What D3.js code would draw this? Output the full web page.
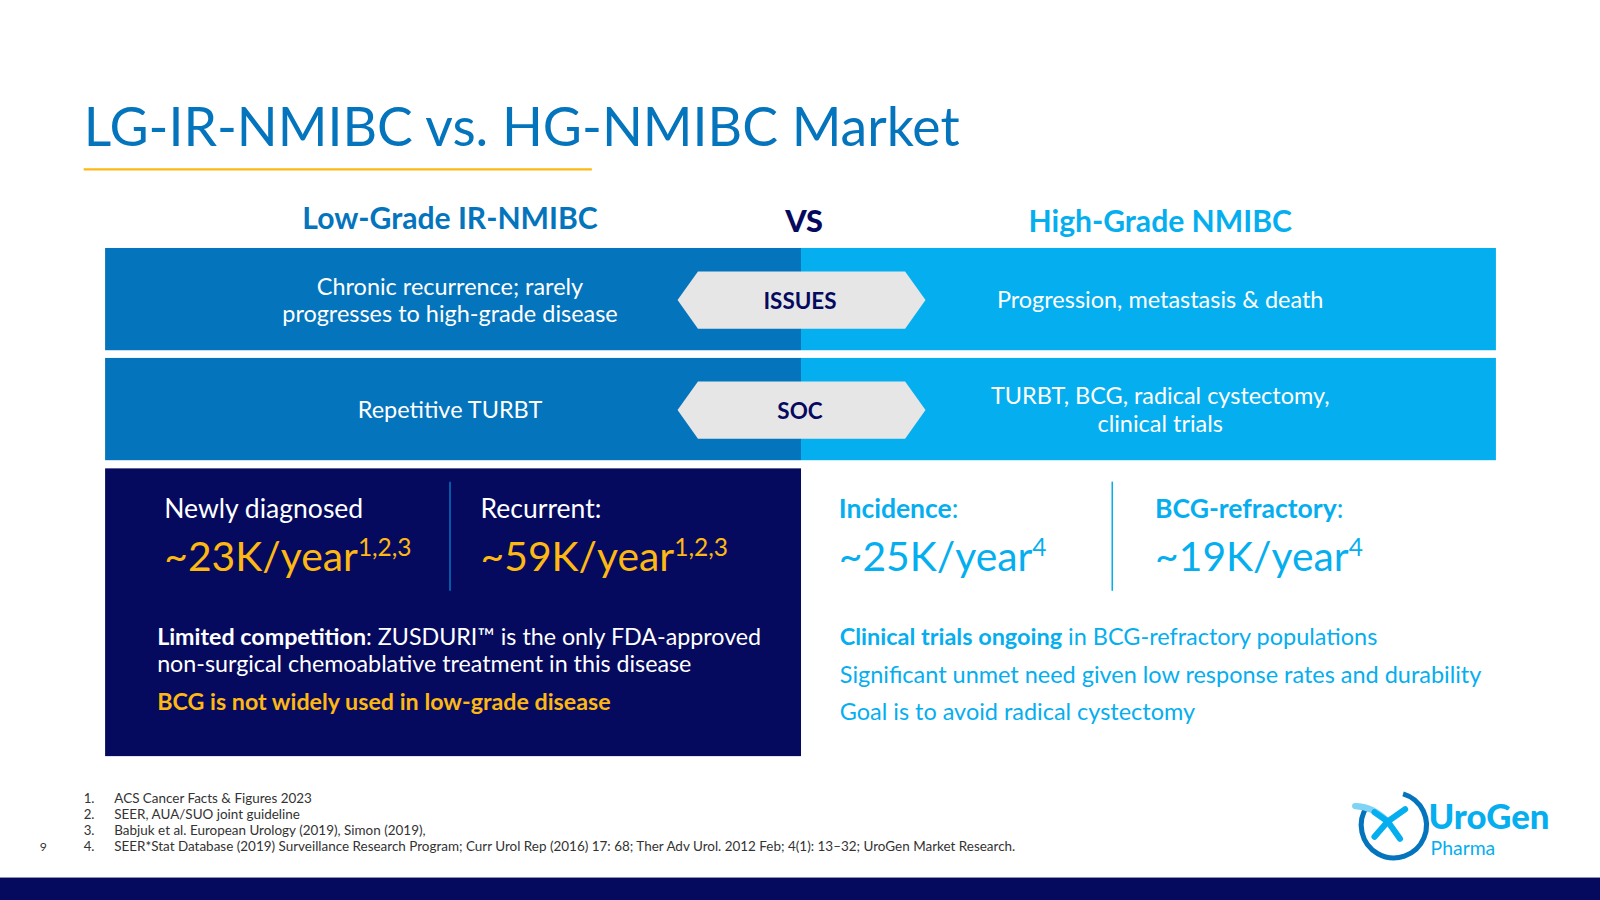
<!DOCTYPE html>
<html><head><meta charset="utf-8">
<script src="https://cdn.jsdelivr.net/npm/d3@7"></script>
<style>body{margin:0;background:#fff}svg{display:block;font-family:Lato,'Open Sans',sans-serif}</style>
</head><body>
<svg id="c" width="1600" height="900" viewBox="0 0 1568 882"></svg>
<script>
const rowLabels = ["ISSUES", "SOC"];
const leftRowText = [["Chronic recurrence; rarely","progresses to high-grade disease"],["Repetitive TURBT"]];
const rightRowText = [["Progression, metastasis & death"],["TURBT, BCG, radical cystectomy,","clinical trials"]];
const leftStatLabels = ["Newly diagnosed", "Recurrent:"];
const leftStatValues = ["~23K/year", "~59K/year"];
const leftStatSup = ["1,2,3", "1,2,3"];
const rightStatLabels = ["Incidence", "BCG-refractory"];
const rightStatValues = ["~25K/year", "~19K/year"];
const rightStatSup = ["4", "4"];
const footnotes = ["ACS Cancer Facts & Figures 2023","SEER, AUA/SUO joint guideline","Babjuk et al. European Urology (2019), Simon (2019),","SEER*Stat Database (2019) Surveillance Research Program; Curr Urol Rep (2016) 17: 68; Ther Adv Urol. 2012 Feb; 4(1): 13–32; UroGen Market Research."];

const svg = d3.select("#c");
const C = {dark:"#0474BC", light:"#05AEEF", navy:"#050A5E", yellow:"#FDB813", title:"#0474BC", grey:"#E6E6E6"};

svg.append("text").attr("x",82).attr("y",143).attr("font-size",52.5).attr("fill",C.title).text("LG-IR-NMIBC vs. HG-NMIBC Market");
svg.append("line").attr("x1",82).attr("x2",580).attr("y1",166).attr("y2",166).attr("stroke","#FDB813").attr("stroke-width",2);

svg.append("text").attr("x",441).attr("y",224).attr("text-anchor","middle").attr("font-size",29.5).attr("font-weight",700).attr("fill",C.dark).text("Low-Grade IR-NMIBC");
svg.append("text").attr("x",788).attr("y",227).attr("text-anchor","middle").attr("font-size",30).attr("font-weight",900).attr("fill",C.navy).text("VS");
svg.append("text").attr("x",1137).attr("y",227).attr("text-anchor","middle").attr("font-size",29.5).attr("font-weight",700).attr("fill",C.light).text("High-Grade NMIBC");

const y = d3.scaleBand().domain(rowLabels).range([243,451]).paddingInner(0.07);
const xl=103, xm=785, xr=1466;
const rows = svg.selectAll("g.row").data(rowLabels).join("g").attr("class","row");
rows.append("rect").attr("x",xl).attr("y",d=>y(d)).attr("width",xm-xl).attr("height",y.bandwidth()).attr("fill",C.dark);
rows.append("rect").attr("x",xm).attr("y",d=>y(d)).attr("width",xr-xm).attr("height",y.bandwidth()).attr("fill",C.light);
rows.append("path").attr("fill",C.grey).attr("d",d=>{const cy=y(d)+y.bandwidth()/2+1, h=28; return `M664,${cy} L684,${cy-h} L887,${cy-h} L907,${cy} L887,${cy+h} L684,${cy+h} Z`;});
rows.append("text").attr("x",784).attr("y",d=>y(d)+y.bandwidth()/2+10).attr("text-anchor","middle").attr("font-size",22).attr("font-weight",700).attr("fill",C.navy).text(d=>d);
function multi(sel, x, lines){
  sel.each(function(d,i){
    const L = lines[i], g=d3.select(this), cy=y(d)+y.bandwidth()/2, lh=27;
    L.forEach((t,k)=>g.append("text").attr("x",x).attr("y",cy+9+(k-(L.length-1)/2)*lh).attr("text-anchor","middle").attr("font-size",23).attr("fill","#fff").text(t));
  });
}
multi(rows, 441, leftRowText);
multi(rows, 1137, rightRowText);

svg.append("rect").attr("x",xl).attr("y",459).attr("width",xm-xl).attr("height",282).attr("fill",C.navy);
svg.append("line").attr("x1",441).attr("x2",441).attr("y1",472).attr("y2",579).attr("stroke",C.dark).attr("stroke-width",1.5);
svg.append("line").attr("x1",1090).attr("x2",1090).attr("y1",472).attr("y2",579).attr("stroke",C.light).attr("stroke-width",1.5);

function stats(xs, labels, vals, sups, lcol, vcol, lbold){
  labels.forEach((l,i)=>{
    const lt=svg.append("text").attr("x",xs[i]).attr("y",508).attr("font-size",26).attr("fill",lcol);
    lt.append("tspan").attr("font-weight",lbold?700:400).text(l);
    if(lbold) lt.append("tspan").text(":");
    const t=svg.append("text").attr("x",xs[i]).attr("y",560).attr("font-size",40).attr("fill",vcol);
    t.append("tspan").text(vals[i]);
    t.append("tspan").attr("font-size",24).attr("dy",-15).text(sups[i]);
  });
}
stats([161,471], leftStatLabels, leftStatValues, leftStatSup, "#fff", C.yellow, false);
stats([822,1132], rightStatLabels, rightStatValues, rightStatSup, C.light, C.light, true);

let t=svg.append("text").attr("x",154).attr("y",632).attr("font-size",22.8).attr("fill","#fff");
t.append("tspan").attr("font-weight",700).text("Limited competition");
t.append("tspan").text(": ZUSDURI™ is the only FDA-approved");
svg.append("text").attr("x",154).attr("y",659).attr("font-size",22.8).attr("fill","#fff").text("non-surgical chemoablative treatment in this disease");
svg.append("text").attr("x",154).attr("y",696).attr("font-size",22.8).attr("font-weight",700).attr("fill",C.yellow).text("BCG is not widely used in low-grade disease");

t=svg.append("text").attr("x",823).attr("y",632).attr("font-size",23).attr("fill",C.light);
t.append("tspan").attr("font-weight",700).text("Clinical trials ongoing");
t.append("tspan").text(" in BCG-refractory populations");
svg.append("text").attr("x",823).attr("y",669).attr("font-size",23).attr("fill",C.light).text("Significant unmet need given low response rates and durability");
svg.append("text").attr("x",823).attr("y",706).attr("font-size",23).attr("fill",C.light).text("Goal is to avoid radical cystectomy");

footnotes.forEach((f,i)=>{
  svg.append("text").attr("x",82).attr("y",787+i*15.7).attr("font-size",13).attr("fill","#333").text((i+1)+".");
  svg.append("text").attr("x",112).attr("y",787+i*15.7).attr("font-size",13.2).attr("fill","#333").text(f);
});
svg.append("text").attr("x",39).attr("y",834).attr("font-size",12).attr("fill","#333").text("9");

// logo
const lg=svg.append("g");
lg.append("path").attr("d","M1340,790 A32,32 0 1 0 1375,778").attr("fill","none").attr("stroke","#0474BC").attr("stroke-width",5);
lg.append("path").attr("d","M1328,790 Q1345,790 1360,805").attr("fill","none").attr("stroke","#7FD3F5").attr("stroke-width",6).attr("stroke-linecap","round");
[[1360,805,1377,793],[1360,805,1347,820],[1360,805,1372,822],[1360,805,1347,796]].forEach(a=>lg.append("line").attr("x1",a[0]).attr("y1",a[1]).attr("x2",a[2]).attr("y2",a[3]).attr("stroke","#05AEEF").attr("stroke-width",6).attr("stroke-linecap","round"));
lg.append("text").attr("x",1400).attr("y",812).attr("font-size",34).attr("font-weight",900).attr("fill","#05AEEF").text("UroGen");
lg.append("text").attr("x",1402).attr("y",838).attr("font-size",19).attr("fill","#05AEEF").text("Pharma");

svg.append("rect").attr("x",0).attr("y",860).attr("width",1568).attr("height",22).attr("fill",C.navy);
</script></body></html>
